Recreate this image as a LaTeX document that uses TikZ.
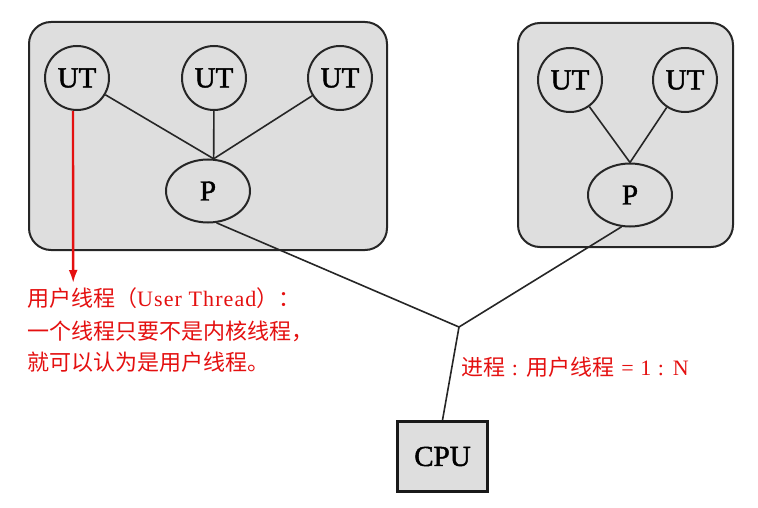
\documentclass[tikz,border=0pt]{standalone}
\usepackage{fontspec}
\setmainfont{Liberation Serif}
\newfontfamily\cjk{Noto Sans CJK SC}
\newfontfamily\latinred[LetterSpace=5]{Liberation Serif}
\newfontfamily\boxfont[FakeBold=1.6]{Liberation Serif}
\usetikzlibrary{shapes.geometric,arrows.meta}
\definecolor{boxgray}{RGB}{222,222,222}
\definecolor{redtext}{RGB}{228,16,16}
\tikzset{
  procbox/.style={draw=black!85, line width=2pt, fill=boxgray, rounded corners=22pt},
  utnode/.style={circle, draw=black!85, line width=2pt, fill=boxgray, minimum size=64pt, inner sep=0pt, font=\boxfont\fontsize{29}{29}\selectfont},
  pnode/.style={ellipse, draw=black!85, line width=2pt, fill=boxgray, minimum width=84pt, minimum height=63pt, inner sep=0pt, font=\boxfont\fontsize{29}{29}\selectfont},
  cpunode/.style={rectangle, draw=black!90, line width=2.8pt, fill=boxgray, minimum width=90pt, minimum height=70pt, inner sep=0pt, font=\boxfont\fontsize{29}{29}\selectfont},
  link/.style={draw=black!85, line width=1.6pt},
  redarrow/.style={draw=redtext, line width=2.4pt, -{Latex[length=13pt,width=9pt]}},
  redlabel/.style={text=redtext, inner sep=0pt, anchor=west, font=\latinred\fontsize{22}{22}\selectfont}
}
\begin{document}
\begin{tikzpicture}[x=1pt,y=-1pt]
\useasboundingbox (0,0) rectangle (758,508);
% process boxes
\node[procbox, minimum width=358pt, minimum height=228pt, inner sep=0pt] (box1) at (208,136) {};
\node[procbox, minimum width=215pt, minimum height=224pt, inner sep=0pt] (box2) at (625.5,135) {};
% threads
\node[utnode] (ut1) at (77,78) {UT};
\node[utnode] (ut2) at (214,78) {UT};
\node[utnode] (ut3) at (340,78) {UT};
\node[pnode] (p1) at (208,191) {P};
\node[utnode] (ut4) at (570,80) {UT};
\node[utnode] (ut5) at (685,80) {UT};
\node[pnode] (p2) at (630,195) {P};
\node[cpunode] (cpu) at (442.5,456.5) {CPU};
\coordinate (j) at (459,327);
% connectors
\draw[link] (ut1) -- (p1.80);
\draw[link] (ut2) -- (p1.80);
\draw[link] (ut3) -- (p1.80);
\draw[link] (ut4) -- (p2.north);
\draw[link] (ut5) -- (p2.north);
\draw[link] (p1.-75) -- (j);
\draw[link] (p2.-105) -- (j);
\draw[link] (j) -- (cpu.north);
% red annotation
\coordinate (tip) at (73.2,283);
\draw[redarrow] (ut1.-97) -- (tip);
\node[redlabel] (t1) at (27,298) {{\cjk 用户线程（}User Thread{\cjk ）：}};
\node[redlabel] (t2) at (27,331) {\cjk 一个线程只要不是内核线程，};
\node[redlabel] (t3) at (27,362) {\cjk 就可以认为是用户线程。};
\node[redlabel] (t4) at (461,367) {{\cjk 进程} : {\cjk 用户线程} = 1 : N};
\end{tikzpicture}
\end{document}
